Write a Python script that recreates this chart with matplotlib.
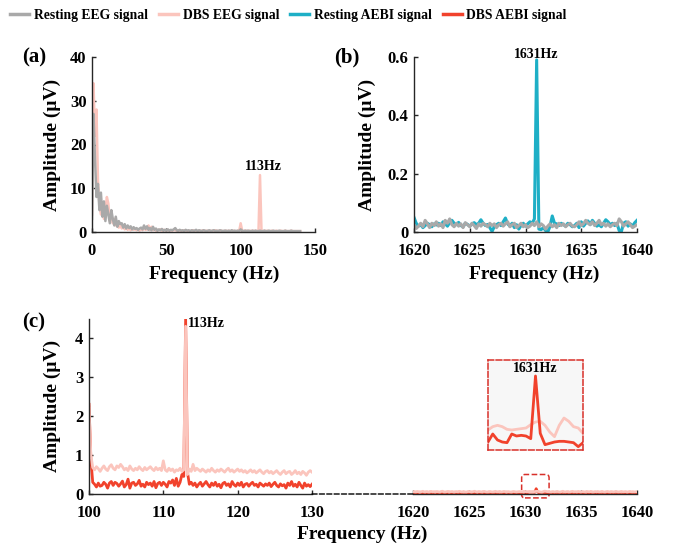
import numpy as np
import matplotlib
matplotlib.use("Agg")
import matplotlib.pyplot as plt
from matplotlib.patches import ConnectionPatch, FancyBboxPatch

plt.rcParams["font.family"] = ["Liberation Serif", "DejaVu Serif"]
plt.rcParams["font.weight"] = "bold"
plt.rcParams["axes.labelweight"] = "bold"

# ---- data -------------------------------------------------------------
# (a) low-frequency spectrum, 0..140 Hz, 1 Hz bins
freq_a = np.arange(0, 141, 1)
rest_eeg_a = [3.0, 27.0, 17.0, 8.0, 11.0, 5.0, 9.0, 3.5, 7.0, 2.5,
              6.0, 4.0, 2.0, 5.0, 3.0, 1.5, 3.5, 1.2, 2.5, 1.8,
              2.0, 1.0, 1.8, 0.8, 1.5, 0.9, 1.3, 0.6, 1.1, 0.7,
              0.9, 0.5, 0.8, 1.0, 0.6, 1.5, 0.7, 1.3, 0.5, 0.9,
              0.4, 1.2, 0.5, 0.8, 0.3, 0.6, 0.4, 0.7, 0.3, 0.5,
              0.3, 0.6, 0.3, 0.5, 0.4, 0.6, 0.9, 0.4, 0.3, 0.5,
              0.3, 0.4, 0.2, 0.5, 0.3, 0.4, 0.2, 0.4, 0.3, 0.3,
              0.5, 0.2, 0.4, 0.3, 0.2, 0.4, 0.3, 0.2, 0.3, 0.4,
              0.2, 0.3, 0.4, 0.2, 0.3, 0.2, 0.4, 0.3, 0.2, 0.3,
              0.3, 0.2, 0.3, 0.2, 0.4, 0.2, 0.3, 0.2, 0.3, 0.2,
              0.6, 0.3, 0.2, 0.3, 0.2, 0.3, 0.2, 0.2, 0.3, 0.2,
              0.3, 0.2, 0.2, 0.3, 0.2, 0.2, 0.3, 0.2, 0.2, 0.3,
              0.2, 0.2, 0.3, 0.2, 0.2, 0.2, 0.3, 0.2, 0.2, 0.2,
              0.3, 0.2, 0.2, 0.2, 0.3, 0.2, 0.2, 0.2, 0.2, 0.2,
              0.2]
dbs_eeg_a = [4.0, 34.0, 22.0, 28.0, 12.0, 6.0, 4.0, 5.5, 3.0, 5.0,
             8.0, 6.5, 2.5, 4.0, 2.0, 3.0, 1.5, 2.2, 1.0, 1.6,
             0.8, 1.3, 0.6, 1.0, 0.5, 0.9, 0.4, 0.8, 0.5, 0.7,
             0.4, 0.6, 0.3, 0.7, 0.4, 0.9, 0.5, 0.6, 1.5, 0.4,
             1.2, 0.4, 0.6, 0.3, 0.5, 0.4, 0.6, 0.3, 0.5, 0.4,
             0.3, 0.5, 0.3, 0.4, 0.3, 0.5, 0.4, 0.3, 0.4, 0.3,
             0.3, 0.2, 0.4, 0.3, 0.2, 0.3, 0.2, 0.3, 0.4, 0.2,
             0.3, 0.2, 0.3, 0.2, 0.3, 0.4, 0.2, 0.3, 0.2, 0.3,
             0.2, 0.3, 0.2, 0.4, 0.2, 0.3, 0.2, 0.3, 0.2, 0.2,
             0.3, 0.2, 0.3, 0.2, 0.2, 0.3, 0.2, 0.2, 0.3, 0.2,
             2.0, 0.3, 0.2, 0.3, 0.3, 0.2, 0.3, 0.2, 0.3, 0.2,
             0.3, 0.2, 0.3, 13.0, 0.3, 0.2, 0.3, 0.2, 0.3, 0.2,
             0.2, 0.3, 0.2, 0.2, 0.3, 0.2, 0.2, 0.3, 0.2, 0.2,
             0.3, 0.2, 0.2, 0.2, 0.3, 0.2, 0.2, 0.2, 0.2, 0.2,
             0.2]

# (b) around the carrier, 1620..1640 Hz, 0.2 Hz bins
freq_b = np.linspace(1620, 1640, 101)
rest_aebi_b = [0.050, 0.030, 0.020, 0.025, 0.015, 0.022, 0.030, 0.025, 0.018, 0.028,
               0.024, 0.030, 0.022, 0.035, 0.028, 0.020, 0.032, 0.040, 0.030, 0.025,
               0.033, 0.022, 0.018, 0.030, 0.026, 0.020, 0.028, 0.032, 0.025, 0.030,
               0.042, 0.030, 0.022, 0.026, 0.015, 0.002, 0.018, 0.025, 0.030, 0.022,
               0.035, 0.048, 0.028, 0.020, 0.030, 0.015, 0.025, 0.010, 0.022, 0.030,
               0.020, 0.028, 0.035, 0.030, 0.045, 0.590, 0.010, 0.008, 0.015, 0.005,
               0.000, 0.020, 0.055, 0.030, 0.028, 0.022, 0.030, 0.025, 0.020, 0.030,
               0.025, 0.018, 0.022, 0.030, 0.015, 0.035, 0.020, 0.030, 0.038, 0.025,
               0.040, 0.030, 0.020, 0.025, 0.018, 0.030, 0.042, 0.035, 0.025, 0.030,
               0.022, 0.030, 0.005, 0.002, 0.030, 0.035, 0.020, 0.028, 0.020, 0.032,
               0.040]
rest_eeg_b = [0.025, 0.012, 0.020, 0.030, 0.018, 0.040, 0.028, 0.015, 0.030, 0.022,
              0.035, 0.020, 0.028, 0.015, 0.040, 0.030, 0.045, 0.025, 0.018, 0.030,
              0.020, 0.028, 0.015, 0.032, 0.025, 0.018, 0.030, 0.022, 0.012, 0.028,
              0.020, 0.030, 0.025, 0.018, 0.030, 0.022, 0.028, 0.015, 0.025, 0.030,
              0.020, 0.028, 0.035, 0.018, 0.025, 0.030, 0.015, 0.022, 0.030, 0.018,
              0.025, 0.015, 0.020, 0.030, 0.022, 0.035, 0.018, 0.028, 0.022, 0.010,
              0.020, 0.028, 0.018, 0.025, 0.015, 0.030, 0.022, 0.028, 0.018, 0.025,
              0.030, 0.020, 0.018, 0.025, 0.035, 0.022, 0.028, 0.040, 0.030, 0.025,
              0.035, 0.022, 0.030, 0.040, 0.025, 0.030, 0.020, 0.028, 0.018, 0.025,
              0.030, 0.022, 0.045, 0.035, 0.020, 0.028, 0.035, 0.025, 0.015, 0.020,
              0.025]

# (c) left part, 100..130 Hz, 0.25 Hz bins
freq_c1 = np.linspace(100, 130, 121)
dbs_aebi_c1 = [2.30, 0.90, 0.30, 0.25, 0.18, 0.28, 0.20, 0.22,
               0.30, 0.25, 0.15, 0.28, 0.32, 0.22, 0.30, 0.27,
               0.20, 0.26, 0.33, 0.18, 0.24, 0.38, 0.15, 0.28,
               0.30, 0.22, 0.26, 0.35, 0.20, 0.25, 0.18, 0.30,
               0.24, 0.28, 0.20, 0.32, 0.16, 0.27, 0.30, 0.22,
               0.30, 0.25, 0.18, 0.32, 0.28, 0.36, 0.22, 0.40,
               0.20, 0.30, 0.50, 0.45, 4.50, 0.55, 0.25, 0.30,
               0.22, 0.28, 0.18, 0.25, 0.30, 0.20, 0.26, 0.32,
               0.24, 0.18, 0.28, 0.22, 0.30, 0.20, 0.25, 0.16,
               0.27, 0.30, 0.22, 0.26, 0.18, 0.32, 0.24, 0.20,
               0.28, 0.22, 0.30, 0.18, 0.25, 0.27, 0.20, 0.26,
               0.30, 0.22, 0.25, 0.18, 0.28, 0.24, 0.20, 0.26,
               0.22, 0.28, 0.19, 0.25, 0.30, 0.22, 0.18, 0.26,
               0.21, 0.24, 0.15, 0.28, 0.22, 0.32, 0.20, 0.25,
               0.18, 0.30, 0.22, 0.15, 0.28, 0.20, 0.24, 0.19,
               0.25]
dbs_eeg_c1 = [2.20, 1.00, 0.68, 0.62, 0.70, 0.65, 0.58, 0.66,
              0.72, 0.64, 0.60, 0.70, 0.75, 0.66, 0.62, 0.72,
              0.68, 0.76, 0.70, 0.62, 0.66, 0.60, 0.72, 0.64,
              0.60, 0.66, 0.62, 0.70, 0.64, 0.60, 0.68, 0.62,
              0.66, 0.70, 0.64, 0.60, 0.68, 0.62, 0.66, 0.60,
              0.85, 0.62, 0.58, 0.66, 0.60, 0.64, 0.56, 0.62,
              0.60, 0.66, 0.58, 0.62, 4.30, 0.50, 0.64, 0.58,
              0.76, 0.60, 0.66, 0.62, 0.58, 0.64, 0.60, 0.56,
              0.62, 0.58, 0.66, 0.60, 0.56, 0.62, 0.58, 0.64,
              0.60, 0.56, 0.62, 0.66, 0.58, 0.62, 0.56, 0.60,
              0.64, 0.58, 0.62, 0.56, 0.60, 0.54, 0.58, 0.62,
              0.56, 0.60, 0.54, 0.58, 0.62, 0.56, 0.52, 0.58,
              0.60, 0.54, 0.58, 0.52, 0.56, 0.60, 0.54, 0.50,
              0.56, 0.60, 0.52, 0.56, 0.58, 0.50, 0.54, 0.60,
              0.52, 0.56, 0.50, 0.58, 0.54, 0.48, 0.56, 0.60,
              0.56]

# (c) right part, 1620..1640 Hz, 0.125 Hz bins
freq_c2 = np.linspace(1620, 1640, 161)
dbs_aebi_c2 = [0.030, 0.042, 0.035, 0.028, 0.040, 0.046, 0.033, 0.027, 0.038, 0.044, 0.031, 0.036, 0.048, 0.034, 0.026, 0.039,
               0.045, 0.032, 0.029, 0.041, 0.037, 0.030, 0.043, 0.035, 0.027, 0.040, 0.047, 0.033, 0.029, 0.038, 0.044, 0.031,
               0.036, 0.042, 0.028, 0.034, 0.046, 0.039, 0.030, 0.027, 0.041, 0.035, 0.045, 0.032, 0.029, 0.037, 0.043, 0.034,
               0.028, 0.040, 0.046, 0.031, 0.036, 0.030, 0.044, 0.038, 0.027, 0.033, 0.042, 0.035, 0.029, 0.039, 0.047, 0.032,
               0.036, 0.030, 0.041, 0.045, 0.033, 0.028, 0.038, 0.043, 0.031, 0.035, 0.040, 0.034, 0.029, 0.033,
               0.037, 0.049, 0.040, 0.037, 0.036, 0.049, 0.046, 0.047, 0.046, 0.042, 0.136, 0.050, 0.033, 0.035,
               0.037, 0.038, 0.038, 0.037, 0.036, 0.030, 0.036,
               0.041, 0.034, 0.029, 0.038, 0.044, 0.032, 0.027, 0.036, 0.043, 0.039, 0.030, 0.035, 0.046, 0.033, 0.028, 0.040,
               0.037, 0.031, 0.045, 0.034, 0.029, 0.042, 0.036, 0.030, 0.039, 0.047, 0.032, 0.028, 0.037, 0.043, 0.035, 0.030,
               0.041, 0.033, 0.027, 0.038, 0.045, 0.031, 0.036, 0.040, 0.029, 0.034, 0.044, 0.037, 0.030, 0.035, 0.042, 0.032,
               0.028, 0.039, 0.046, 0.033, 0.030, 0.037, 0.041, 0.034, 0.029, 0.036, 0.043, 0.031, 0.035, 0.038]
dbs_eeg_c2 = [0.055, 0.062, 0.050, 0.066, 0.058, 0.047, 0.060, 0.070, 0.053, 0.057, 0.064, 0.049, 0.059, 0.068, 0.054, 0.061,
              0.052, 0.065, 0.058, 0.048, 0.063, 0.071, 0.056, 0.050, 0.060, 0.067, 0.053, 0.058, 0.064, 0.049, 0.057, 0.062,
              0.054, 0.069, 0.059, 0.051, 0.063, 0.056, 0.048, 0.061, 0.066, 0.055, 0.052, 0.060, 0.070, 0.057, 0.050, 0.064,
              0.058, 0.053, 0.062, 0.067, 0.055, 0.049, 0.059, 0.065, 0.056, 0.051, 0.061, 0.068, 0.054, 0.058, 0.063, 0.050,
              0.057, 0.066, 0.059, 0.052, 0.061, 0.055, 0.048, 0.060, 0.064, 0.056, 0.053, 0.058, 0.062, 0.057,
              0.055, 0.060, 0.062, 0.060, 0.056, 0.055, 0.056, 0.057, 0.058, 0.063, 0.067, 0.068, 0.062, 0.052,
              0.045, 0.062, 0.073, 0.068, 0.060, 0.058, 0.050,
              0.056, 0.063, 0.051, 0.059, 0.067, 0.054, 0.049, 0.061, 0.070, 0.057, 0.052, 0.064, 0.058, 0.050, 0.062, 0.068,
              0.055, 0.060, 0.053, 0.066, 0.059, 0.048, 0.063, 0.057, 0.051, 0.065, 0.060, 0.054, 0.069, 0.056, 0.050, 0.062,
              0.058, 0.064, 0.052, 0.057, 0.067, 0.055, 0.049, 0.061, 0.066, 0.053, 0.059, 0.063, 0.051, 0.058, 0.068, 0.056,
              0.052, 0.060, 0.065, 0.054, 0.057, 0.062, 0.050, 0.059, 0.066, 0.055, 0.061, 0.053, 0.058, 0.060]

c_gray = "#a9a9a9"
c_pink = "#fbc5bd"
c_teal = "#1eafc6"
c_red = "#f1422c"
c_axis = "#262626"
c_box = "#d8302a"


def style_axes(ax):
    for side in ["top", "right"]:
        ax.spines[side].set_visible(False)
    for side in ["left", "bottom"]:
        ax.spines[side].set_color(c_axis)
        ax.spines[side].set_linewidth(1.0)
    ax.tick_params(direction="in", length=3, width=1, color=c_axis,
                   labelsize=12, pad=4)
    ax.tick_params(axis="x", pad=8)


fig = plt.figure(figsize=(6.75, 5.46), dpi=100)

# ---- (a) ----
ax_a = fig.add_axes([92 / 675, 1 - 232 / 546, 223 / 675, 175 / 546])
ax_a.plot(freq_a, dbs_eeg_a, color=c_pink, lw=1.8)
ax_a.plot(freq_a, rest_eeg_a, color=c_gray, lw=1.8)
ax_a.set_xlim(0, 150)
ax_a.set_ylim(0, 40)
ax_a.set_xticks([0, 50, 100, 150])
ax_a.set_yticks([0, 10, 20, 30, 40])
style_axes(ax_a)
ax_a.text(115.5, 13.6, "113Hz", ha="center", va="bottom", fontsize=10)
ax_a.set_ylabel("Amplitude (μV)", fontsize=14)
ax_a.set_xlabel("Frequency (Hz)", fontsize=14)
ax_a.yaxis.set_label_coords(-0.14, 0.5)
ax_a.xaxis.set_label_coords(0.55, -0.19)
fig.text(22 / 675, 1 - 57 / 546, "(a)", fontsize=15, va="center")

# ---- (b) ----
ax_b = fig.add_axes([414 / 675, 1 - 232 / 546, 223 / 675, 175 / 546])
ax_b.plot(freq_b, rest_aebi_b, color=c_teal, lw=2.2)
ax_b.plot(freq_b, rest_eeg_b, color=c_gray, lw=2.2)
ax_b.set_xlim(1620, 1640)
ax_b.set_ylim(0, 0.6)
ax_b.set_xticks([1620, 1625, 1630, 1635, 1640])
ax_b.set_yticks([0, 0.2, 0.4, 0.6])
ax_b.set_yticklabels(["0", "0.2", "0.4", "0.6"])
style_axes(ax_b)
ax_b.text(1631, 0.585, "1631Hz", ha="center", va="bottom", fontsize=10)
ax_b.set_ylabel("Amplitude (μV)", fontsize=14)
ax_b.set_xlabel("Frequency (Hz)", fontsize=14)
ax_b.yaxis.set_label_coords(-0.17, 0.5)
ax_b.xaxis.set_label_coords(0.54, -0.19)
fig.text(334 / 675, 1 - 57 / 546, "(b)", fontsize=15, va="center")

# ---- (c) ----
ax_c1 = fig.add_axes([89 / 675, 1 - 494 / 546, 223 / 675, 175.5 / 546])
ax_c1.plot(freq_c1, dbs_aebi_c1, color=c_red, lw=2)
ax_c1.plot(freq_c1, dbs_eeg_c1, color=c_pink, lw=2)
ax_c1.set_xlim(100, 130)
ax_c1.set_ylim(0, 4.5)
ax_c1.set_xticks([100, 110, 120, 130])
ax_c1.set_yticks([0, 1, 2, 3, 4])
style_axes(ax_c1)
ax_c1.text(113.25, 4.36, "113Hz", ha="left", va="center", fontsize=10)
ax_c1.set_ylabel("Amplitude (μV)", fontsize=14)
ax_c1.yaxis.set_label_coords(-0.125, 0.5)
fig.text(22 / 675, 1 - 322 / 546, "(c)", fontsize=15, va="center")

ax_c2 = fig.add_axes([413 / 675, 1 - 494 / 546, 224 / 675, 175.5 / 546])
ax_c2.plot(freq_c2, dbs_aebi_c2, color=c_red, lw=2)
ax_c2.plot(freq_c2, dbs_eeg_c2, color=c_pink, lw=2)
ax_c2.set_xlim(1620, 1640)
ax_c2.set_ylim(0, 4.5)
ax_c2.set_xticks([1620, 1625, 1630, 1635, 1640])
style_axes(ax_c2)
ax_c2.spines["left"].set_visible(False)
ax_c2.tick_params(axis="y", left=False, labelleft=False)
ax_c2.patch.set_alpha(0)

# dashed break line between the two frequency ranges
con = ConnectionPatch(xyA=(130, 0), coordsA=ax_c1.transData,
                      xyB=(1620, 0), coordsB=ax_c2.transData,
                      linestyle="--", color="black", lw=1)
fig.add_artist(con)

fig.text(362 / 675, 1 - 534 / 546, "Frequency (Hz)", fontsize=14,
         ha="center", va="center")

# small marker box around 1631 Hz
mark = FancyBboxPatch((1629.7, -0.1), 2.45, 0.6,
                      boxstyle="round,pad=0,rounding_size=0.3",
                      mutation_aspect=0.29, fill=False, ec=c_box,
                      ls="--", lw=1.1, clip_on=False)
ax_c2.add_patch(mark)

# inset zoom
ax_in = fig.add_axes([488 / 675, 1 - 450 / 546, 95 / 675, 90 / 546])
ax_in.set_facecolor("#f7f7f7")
ax_in.plot(freq_c2, dbs_eeg_c2, color=c_pink, lw=2)
ax_in.plot(freq_c2, dbs_aebi_c2, color=c_red, lw=2)
ax_in.set_xlim(1629.75, 1632.25)
ax_in.set_ylim(0.025, 0.16)
ax_in.set_xticks([])
ax_in.set_yticks([])
for side in ax_in.spines:
    ax_in.spines[side].set_color(c_box)
    ax_in.spines[side].set_linestyle("--")
    ax_in.spines[side].set_linewidth(1.1)
ax_in.text(1631.0, 0.148, "1631Hz", ha="center", va="center", fontsize=10)

# legend
handles = [plt.Line2D([], [], color=c_gray, lw=2.5),
           plt.Line2D([], [], color=c_pink, lw=2.5),
           plt.Line2D([], [], color=c_teal, lw=2.5),
           plt.Line2D([], [], color=c_red, lw=2.5)]
labels = ["Resting EEG signal", "DBS EEG signal",
          "Resting AEBI signal", "DBS AEBI signal"]
fig.legend(handles, labels, loc="center left", bbox_to_anchor=(10 / 675, 1 - 15 / 546),
           ncol=4, frameon=False, fontsize=9.8, handlelength=1.4,
           handletextpad=0.35, columnspacing=0.8, borderaxespad=0,
           borderpad=0)

fig.savefig("out.png", dpi=100)
